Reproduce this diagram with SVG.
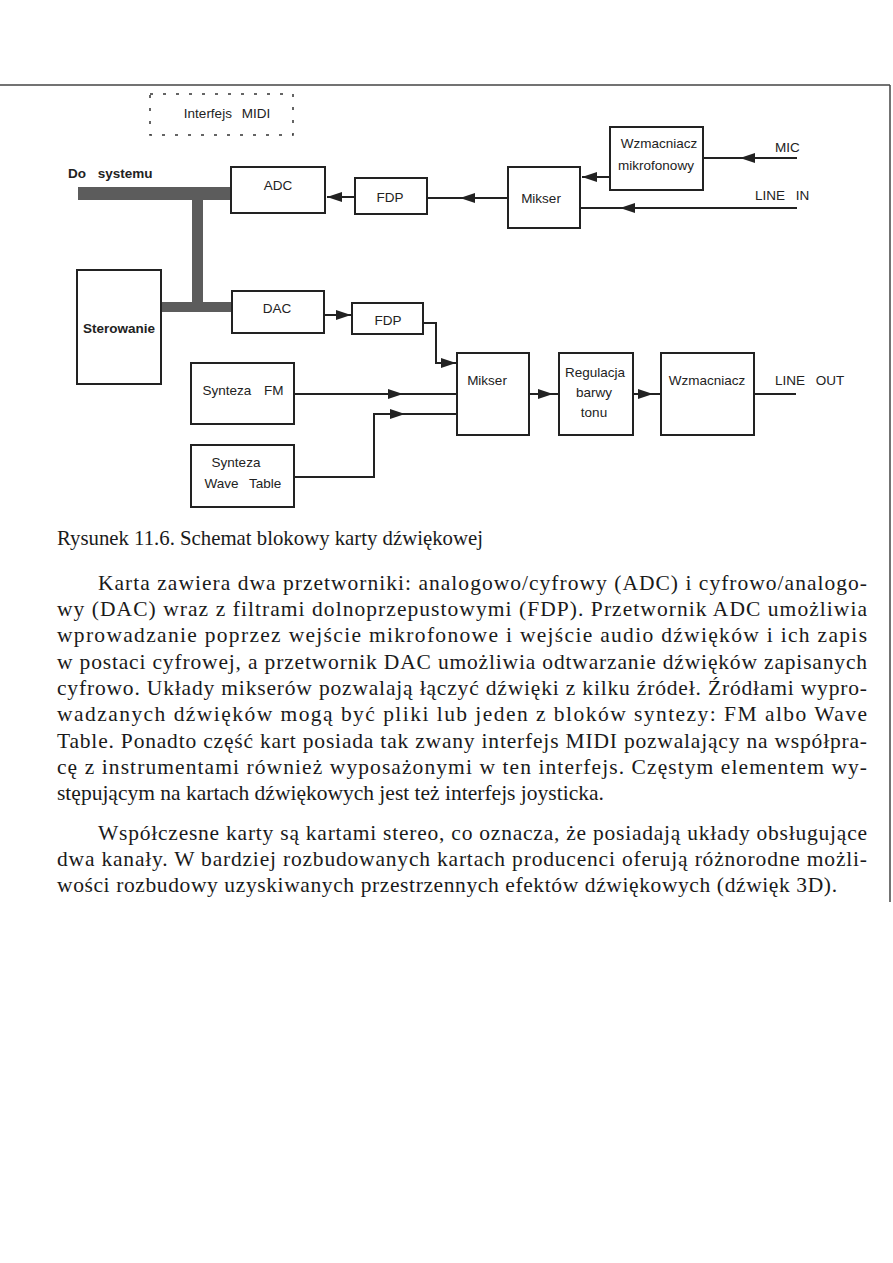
<svg xmlns="http://www.w3.org/2000/svg" width="893" height="1263" viewBox="0 0 893 1263">
<defs>
<marker id="arr" markerUnits="userSpaceOnUse" markerWidth="16" markerHeight="12" refX="15" refY="5" orient="auto">
<path d="M0,0 L15,5 L0,10 z" fill="#222"/>
</marker>
<style>
.box{fill:#fff;stroke:#222;stroke-width:2}
.ln{fill:none;stroke:#222;stroke-width:2}
.bus{fill:#5c5c5c}
.t{font-family:"Liberation Sans",Arial,sans-serif;font-size:13.5px;fill:#222;text-anchor:middle}
.lb{font-family:"Liberation Sans",Arial,sans-serif;font-size:13.5px;fill:#222}
.body{font-family:"Liberation Serif","Times New Roman",serif;font-size:21.5px;fill:#1a1a1a}
</style>
</defs>
<rect width="893" height="1263" fill="#fff"/>
<g id="page-frame">
<line x1="0" y1="85" x2="890" y2="85" stroke="#444" stroke-width="1.5"/>
<line x1="890" y1="85" x2="890" y2="902" stroke="#444" stroke-width="1.5"/>
</g>
<g id="bus">
<rect class="bus" x="78" y="187" width="154" height="13"/>
<rect class="bus" x="192" y="187" width="11" height="125"/>
<rect class="bus" x="160" y="302" width="72" height="10"/>
</g>
<g id="connectors">
<path class="ln" d="M355,197 H327" marker-end="url(#arr)"/>
<path class="ln" d="M508,198 H460"/>
<path class="ln" d="M475,198 H460" marker-end="url(#arr)"/>
<path class="ln" d="M460,198 H427"/>
<path class="ln" d="M797,158 H740" marker-end="url(#arr)"/>
<path class="ln" d="M740,158 H703"/>
<path class="ln" d="M610,177 H582" marker-end="url(#arr)"/>
<path class="ln" d="M797,208 H620" marker-end="url(#arr)"/>
<path class="ln" d="M620,208 H580"/>
<path class="ln" d="M324,315 H351" marker-end="url(#arr)"/>
<path class="ln" d="M423,323 H436 V363 H456" marker-end="url(#arr)"/>
<path class="ln" d="M294,394 H403" marker-end="url(#arr)"/>
<path class="ln" d="M403,394 H457"/>
<path class="ln" d="M294,477 H374 V414 H405" marker-end="url(#arr)"/>
<path class="ln" d="M405,414 H457"/>
<path class="ln" d="M529,394 H553" marker-end="url(#arr)"/>
<path class="ln" d="M553,394 H559"/>
<path class="ln" d="M633,394 H653" marker-end="url(#arr)"/>
<path class="ln" d="M653,394 H661"/>
<path class="ln" d="M754,394 H796"/>
</g>
<g id="midi">
<rect x="150" y="94" width="143" height="41" fill="none" stroke="#333" stroke-width="1.5" stroke-dasharray="3 10"/>
<text class="t" x="227" y="118" word-spacing="6">Interfejs MIDI</text>
</g>
<g id="do-systemu">
<text class="lb" x="68" y="178" font-weight="bold" word-spacing="8">Do systemu</text>
</g>
<g id="adc">
<rect class="box" x="231" y="167" width="94" height="46"/>
<text class="t" x="278" y="190">ADC</text>
</g>
<g id="fdp1">
<rect class="box" x="355" y="178" width="72" height="36"/>
<text class="t" x="390" y="202">FDP</text>
</g>
<g id="mikser1">
<rect class="box" x="508" y="167" width="72" height="61"/>
<text class="t" x="541" y="203">Mikser</text>
</g>
<g id="wzm-mic">
<rect class="box" x="610" y="127" width="93" height="63"/>
<text class="t" x="659" y="148" font-size="13">Wzmacniacz</text>
<text class="t" x="656" y="170" font-size="13">mikrofonowy</text>
</g>
<g id="mic">
<text class="lb" x="775" y="152">MIC</text>
</g>
<g id="line-in">
<text class="lb" x="755" y="200" word-spacing="7">LINE IN</text>
</g>
<g id="sterowanie">
<rect class="box" x="77" y="270" width="84" height="114"/>
<text class="t" x="119" y="333" font-size="13" font-weight="bold">Sterowanie</text>
</g>
<g id="dac">
<rect class="box" x="232" y="291" width="92" height="42"/>
<text class="t" x="277" y="313">DAC</text>
</g>
<g id="fdp2">
<rect class="box" x="352" y="303" width="71" height="31"/>
<text class="t" x="388" y="325">FDP</text>
</g>
<g id="synteza-fm">
<rect class="box" x="191" y="363" width="103" height="61"/>
<text class="t" x="243" y="395" word-spacing="9">Synteza FM</text>
</g>
<g id="synteza-wt">
<rect class="box" x="191" y="445" width="103" height="62"/>
<text class="t" x="236" y="467">Synteza</text>
<text class="t" x="243" y="488" word-spacing="7">Wave Table</text>
</g>
<g id="mikser2">
<rect class="box" x="457" y="353" width="72" height="82"/>
<text class="t" x="487" y="385">Mikser</text>
</g>
<g id="regulacja">
<rect class="box" x="559" y="353" width="74" height="82"/>
<text class="t" x="595" y="377">Regulacja</text>
<text class="t" x="594" y="397">barwy</text>
<text class="t" x="594" y="417">tonu</text>
</g>
<g id="wzmacniacz">
<rect class="box" x="661" y="353" width="93" height="82"/>
<text class="t" x="707" y="385">Wzmacniacz</text>
</g>
<g id="line-out">
<text class="lb" x="775" y="385" word-spacing="7">LINE OUT</text>
</g>
<g id="caption-text">
<text class="body" x="57" y="545" font-size="17" textLength="426" lengthAdjust="spacingAndGlyphs">Rysunek 11.6. Schemat blokowy karty dźwiękowej</text>
<text class="body" x="98" y="590" textLength="769" lengthAdjust="spacing">Karta zawiera dwa przetworniki: analogowo/cyfrowy (ADC) i cyfrowo/analogo-</text>
<text class="body" x="57" y="616" textLength="810" lengthAdjust="spacing">wy (DAC) wraz z filtrami dolnoprzepustowymi (FDP). Przetwornik ADC umożliwia</text>
<text class="body" x="57" y="642" textLength="810" lengthAdjust="spacing">wprowadzanie poprzez wejście mikrofonowe i wejście audio dźwięków i ich zapis</text>
<text class="body" x="57" y="669" textLength="810" lengthAdjust="spacing">w postaci cyfrowej, a przetwornik DAC umożliwia odtwarzanie dźwięków zapisanych</text>
<text class="body" x="57" y="695" textLength="810" lengthAdjust="spacing">cyfrowo. Układy mikserów pozwalają łączyć dźwięki z kilku źródeł. Źródłami wypro-</text>
<text class="body" x="57" y="721" textLength="810" lengthAdjust="spacing">wadzanych dźwięków mogą być pliki lub jeden z bloków syntezy: FM albo Wave</text>
<text class="body" x="57" y="748" textLength="810" lengthAdjust="spacing">Table. Ponadto część kart posiada tak zwany interfejs MIDI pozwalający na współpra-</text>
<text class="body" x="57" y="774" textLength="810" lengthAdjust="spacing">cę z instrumentami również wyposażonymi w ten interfejs. Częstym elementem wy-</text>
<text class="body" x="57" y="800">stępującym na kartach dźwiękowych jest też interfejs joysticka.</text>
<text class="body" x="98" y="840" textLength="769" lengthAdjust="spacing">Współczesne karty są kartami stereo, co oznacza, że posiadają układy obsługujące</text>
<text class="body" x="57" y="866" textLength="810" lengthAdjust="spacing">dwa kanały. W bardziej rozbudowanych kartach producenci oferują różnorodne możli-</text>
<text class="body" x="57" y="892" textLength="780" lengthAdjust="spacing">wości rozbudowy uzyskiwanych przestrzennych efektów dźwiękowych (dźwięk 3D).</text>
</g>
</svg>
